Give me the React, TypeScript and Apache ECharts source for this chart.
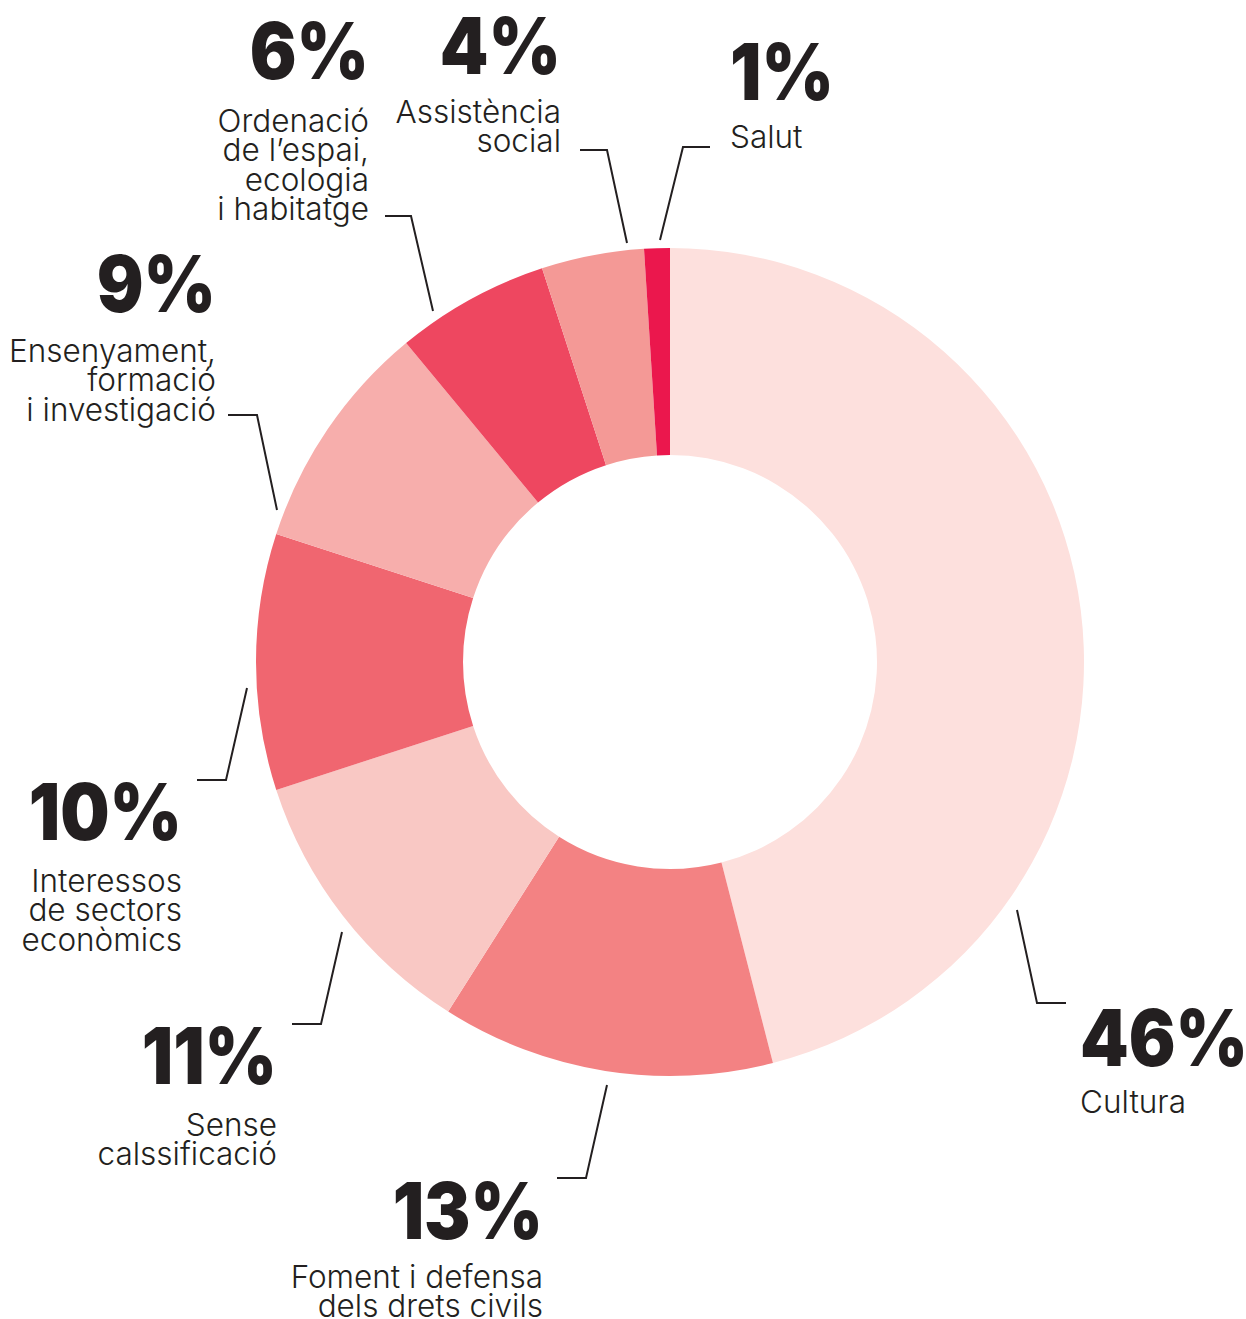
import React, { useEffect, useRef } from "react";
import * as echarts from "echarts";

const categories = [
  "Cultura",
  "Foment i defensa dels drets civils",
  "Sense calssificació",
  "Interessos de sectors econòmics",
  "Ensenyament, formació i investigació",
  "Ordenació de l’espai, ecologia i habitatge",
  "Assistència social",
  "Salut",
];
const values = [46, 13, 11, 10, 9, 6, 4, 1];
const labelLines = [
  ["Cultura"],
  ["Foment i defensa", "dels drets civils"],
  ["Sense", "calssificació"],
  ["Interessos", "de sectors", "econòmics"],
  ["Ensenyament,", "formació", "i investigació"],
  ["Ordenació", "de l’espai,", "ecologia", "i habitatge"],
  ["Assistència", "social"],
  ["Salut"],
];
const colors = ["#fde0dd", "#f38283", "#f9c8c4", "#f06670", "#f7aeac", "#ee4760", "#f49996", "#eb174d"];

// annotation layout (label anchor, leader line)
const labelLayout = [
  { x: 1080, align: "left", pctY: 1037, nameY: 1101, line: [[1017, 910], [1037, 1003], [1066, 1003]] },
  { x: 543, align: "right", pctY: 1210, nameY: 1276, line: [[607, 1085], [586, 1178], [557, 1178]] },
  { x: 277, align: "right", pctY: 1055, nameY: 1124, line: [[342, 932], [321, 1024], [292, 1024]] },
  { x: 182, align: "right", pctY: 811, nameY: 880, line: [[247, 688], [226, 780], [197, 780]] },
  { x: 216, align: "right", pctY: 283, nameY: 350, line: [[277, 510], [257, 415], [228, 415]] },
  { x: 369, align: "right", pctY: 50, nameY: 120, line: [[433, 311], [411, 216], [385, 216]] },
  { x: 561, align: "right", pctY: 45, nameY: 111, line: [[627, 243], [607, 150], [580, 150]] },
  { x: 730, align: "left", pctY: 71, nameY: 136, line: [[660, 240], [683, 147], [710, 147]] },
];

const INK = "#231f20";
const LINE_GAP = 29.5;

export default function App() {
  const ref = useRef<HTMLDivElement>(null);
  useEffect(() => {
    if (!ref.current) return;
    const chart = echarts.init(ref.current, null, { renderer: "svg" });
    const graphics: any[] = [];
    values.forEach((v, i) => {
      const L = labelLayout[i];
      graphics.push({
        type: "polyline",
        shape: { points: L.line },
        style: { stroke: INK, lineWidth: 2, fill: null },
        silent: true,
      });
      graphics.push({
        type: "text",
        x: L.x,
        y: L.pctY,
        scaleX: 0.89,
        style: {
          text: `${v}%`,
          font: "900 78px Inter",
          fill: INK,
          align: L.align,
          verticalAlign: "middle",
        },
        silent: true,
      });
      labelLines[i].forEach((t, j) => {
        graphics.push({
          type: "text",
          x: L.x,
          y: L.nameY + j * LINE_GAP,
          style: {
            text: t,
            font: "300 31.5px Inter",
            fill: INK,
            align: L.align,
            verticalAlign: "middle",
          },
          silent: true,
        });
      });
    });
    chart.setOption({
      animation: false,
      series: [
        {
          type: "pie",
          center: [670, 662],
          radius: [207, 414],
          startAngle: 90,
          clockwise: true,
          label: { show: false },
          labelLine: { show: false },
          silent: true,
          data: categories.map((c, i) => ({ name: c, value: values[i], itemStyle: { color: colors[i] } })),
        },
      ],
      graphic: graphics,
    });
    return () => chart.dispose();
  }, []);
  return <div ref={ref} style={{ position: "absolute", left: 0, top: 0, width: 1246, height: 1319 }} />;
}
